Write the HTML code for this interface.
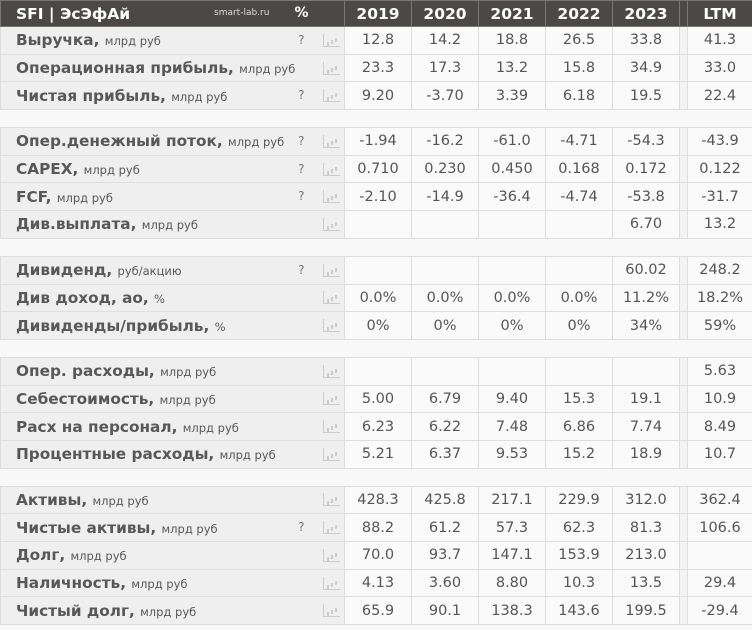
<!DOCTYPE html>
<html><head><meta charset="utf-8"><style>
body{margin:0;width:752px;height:630px;background:#f8f8f8;overflow:hidden;font-family:"DejaVu Sans","Liberation Sans",sans-serif;}
table{border-collapse:collapse;table-layout:fixed;width:752px;}
td{padding:0;border:1px solid #dedede;height:26.7px;color:#555;font-size:14.5px;text-align:center;white-space:nowrap;overflow:hidden;background:#fafafa}
td.l{background:#efefef;text-align:left;padding-left:15px;font-weight:bold;font-size:15.3px;position:relative;border-right:none;color:#585858}
td.l span{font-weight:normal;font-size:11.5px}
td.l i{position:absolute;right:14px;top:6px;font-style:normal;font-weight:normal;font-size:12px;color:#777}
td.ic{background:#efefef;border-left:none}
td.g{background:#f3f3f3}
tr.h td{background:#4d4848;color:#fff;font-weight:bold;font-size:15.5px;height:25px;border-color:#777}
tr.h td.l{color:#fff;font-size:15.5px}
tr.s td{height:17px;background:#f8f8f8;border-left:none;border-right:none}
.bar{display:inline-block;width:16px;height:12px;border-left:1px solid #ccc;border-bottom:1px solid #ccc;position:relative;vertical-align:middle}
.bar:before{content:"";position:absolute;left:3px;bottom:0;width:2px;height:4px;background:#ccc;box-shadow:4px -2px 0 0 #ccc,8px -4px 0 0 #ccc}
</style></head><body>
<table>
<colgroup><col style="width:318px"><col style="width:26px"><col style="width:67px"><col style="width:67px"><col style="width:67px"><col style="width:67px"><col style="width:67px"><col style="width:8px"><col style="width:65px"></colgroup>
<tr class="h"><td class="l">SFI | ЭсЭфАй<span style="position:absolute;left:213px;top:7px;font-size:9px;font-weight:normal;color:#ddd">smart-lab.ru</span><span style="position:absolute;right:10px;top:4px;font-size:14px;font-weight:bold">%</span></td><td class="ic" style="background:#4d4848"></td><td>2019</td><td>2020</td><td>2021</td><td>2022</td><td>2023</td><td class="g" style="background:#4d4848"></td><td>LTM</td></tr>
<tr><td class="l">Выручка, <span>млрд руб</span><i>?</i></td><td class="ic"><b class="bar"></b></td><td>12.8</td><td>14.2</td><td>18.8</td><td>26.5</td><td>33.8</td><td class="g"></td><td>41.3</td></tr>
<tr><td class="l">Операционная прибыль, <span>млрд руб</span></td><td class="ic"><b class="bar"></b></td><td>23.3</td><td>17.3</td><td>13.2</td><td>15.8</td><td>34.9</td><td class="g"></td><td>33.0</td></tr>
<tr><td class="l">Чистая прибыль, <span>млрд руб</span><i>?</i></td><td class="ic"><b class="bar"></b></td><td>9.20</td><td>-3.70</td><td>3.39</td><td>6.18</td><td>19.5</td><td class="g"></td><td>22.4</td></tr>
<tr class="s"><td colspan="9"></td></tr>
<tr><td class="l">Опер.денежный поток, <span>млрд руб</span><i>?</i></td><td class="ic"><b class="bar"></b></td><td>-1.94</td><td>-16.2</td><td>-61.0</td><td>-4.71</td><td>-54.3</td><td class="g"></td><td>-43.9</td></tr>
<tr><td class="l">CAPEX, <span>млрд руб</span><i>?</i></td><td class="ic"><b class="bar"></b></td><td>0.710</td><td>0.230</td><td>0.450</td><td>0.168</td><td>0.172</td><td class="g"></td><td>0.122</td></tr>
<tr><td class="l">FCF, <span>млрд руб</span><i>?</i></td><td class="ic"><b class="bar"></b></td><td>-2.10</td><td>-14.9</td><td>-36.4</td><td>-4.74</td><td>-53.8</td><td class="g"></td><td>-31.7</td></tr>
<tr><td class="l">Див.выплата, <span>млрд руб</span></td><td class="ic"><b class="bar"></b></td><td></td><td></td><td></td><td></td><td>6.70</td><td class="g"></td><td>13.2</td></tr>
<tr class="s"><td colspan="9"></td></tr>
<tr><td class="l">Дивиденд, <span>руб/акцию</span><i>?</i></td><td class="ic"><b class="bar"></b></td><td></td><td></td><td></td><td></td><td>60.02</td><td class="g"></td><td>248.2</td></tr>
<tr><td class="l">Див доход, ао, <span>%</span></td><td class="ic"><b class="bar"></b></td><td>0.0%</td><td>0.0%</td><td>0.0%</td><td>0.0%</td><td>11.2%</td><td class="g"></td><td>18.2%</td></tr>
<tr><td class="l">Дивиденды/прибыль, <span>%</span></td><td class="ic"><b class="bar"></b></td><td>0%</td><td>0%</td><td>0%</td><td>0%</td><td>34%</td><td class="g"></td><td>59%</td></tr>
<tr class="s"><td colspan="9"></td></tr>
<tr><td class="l">Опер. расходы, <span>млрд руб</span></td><td class="ic"><b class="bar"></b></td><td></td><td></td><td></td><td></td><td></td><td class="g"></td><td>5.63</td></tr>
<tr><td class="l">Себестоимость, <span>млрд руб</span></td><td class="ic"><b class="bar"></b></td><td>5.00</td><td>6.79</td><td>9.40</td><td>15.3</td><td>19.1</td><td class="g"></td><td>10.9</td></tr>
<tr><td class="l">Расх на персонал, <span>млрд руб</span></td><td class="ic"><b class="bar"></b></td><td>6.23</td><td>6.22</td><td>7.48</td><td>6.86</td><td>7.74</td><td class="g"></td><td>8.49</td></tr>
<tr><td class="l">Процентные расходы, <span>млрд руб</span></td><td class="ic"><b class="bar"></b></td><td>5.21</td><td>6.37</td><td>9.53</td><td>15.2</td><td>18.9</td><td class="g"></td><td>10.7</td></tr>
<tr class="s"><td colspan="9"></td></tr>
<tr><td class="l">Активы, <span>млрд руб</span></td><td class="ic"><b class="bar"></b></td><td>428.3</td><td>425.8</td><td>217.1</td><td>229.9</td><td>312.0</td><td class="g"></td><td>362.4</td></tr>
<tr><td class="l">Чистые активы, <span>млрд руб</span><i>?</i></td><td class="ic"><b class="bar"></b></td><td>88.2</td><td>61.2</td><td>57.3</td><td>62.3</td><td>81.3</td><td class="g"></td><td>106.6</td></tr>
<tr><td class="l">Долг, <span>млрд руб</span></td><td class="ic"><b class="bar"></b></td><td>70.0</td><td>93.7</td><td>147.1</td><td>153.9</td><td>213.0</td><td class="g"></td><td></td></tr>
<tr><td class="l">Наличность, <span>млрд руб</span></td><td class="ic"><b class="bar"></b></td><td>4.13</td><td>3.60</td><td>8.80</td><td>10.3</td><td>13.5</td><td class="g"></td><td>29.4</td></tr>
<tr><td class="l">Чистый долг, <span>млрд руб</span></td><td class="ic"><b class="bar"></b></td><td>65.9</td><td>90.1</td><td>138.3</td><td>143.6</td><td>199.5</td><td class="g"></td><td>-29.4</td></tr>
</table>
</body></html>
